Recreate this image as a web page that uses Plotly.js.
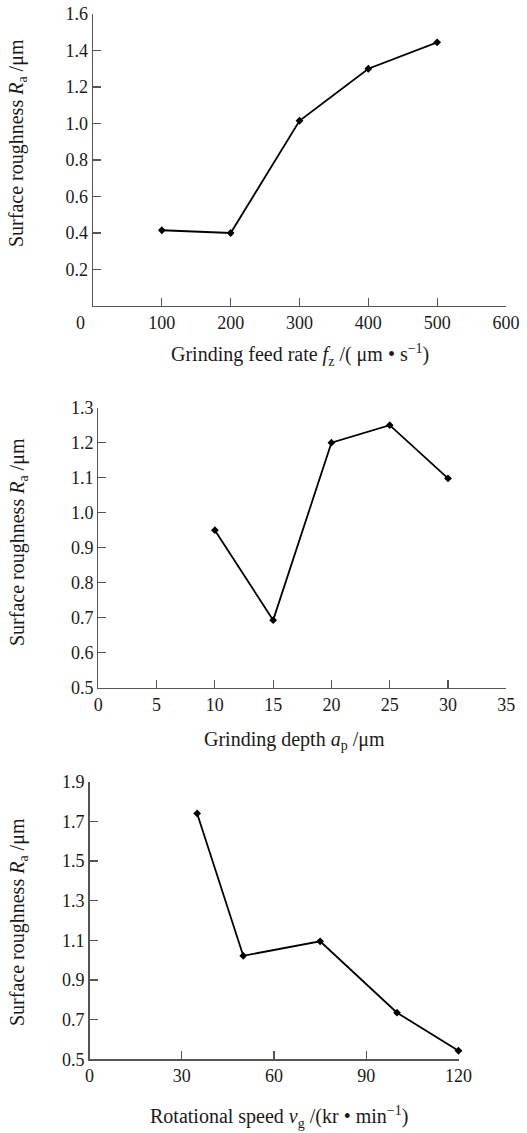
<!DOCTYPE html>
<html>
<head>
<meta charset="utf-8">
<script src="https://cdn.plot.ly/plotly-3.0.1.min.js"></script>
<style>
html,body{margin:0;padding:0;background:#fff;}
#chart{width:527px;height:1133px;}
</style>
</head>
<body>
<div id="chart"></div>
<script>
// Chart 1: grinding feed rate
const feedRate = [100, 200, 300, 400, 500];
const roughnessFeed = [0.415, 0.40, 1.015, 1.30, 1.445];
// Chart 2: grinding depth
const depth = [10, 15, 20, 25, 30];
const roughnessDepth = [0.95, 0.693, 1.20, 1.25, 1.098];
// Chart 3: rotational speed
const speed = [35, 50, 75, 100, 120];
const roughnessSpeed = [1.74, 1.022, 1.095, 0.735, 0.543];

const feedTicks = [100, 200, 300, 400, 500, 600];
const feedYTicks = [0.2, 0.4, 0.6, 0.8, 1.0, 1.2, 1.4, 1.6];
const depthTicks = [0, 5, 10, 15, 20, 25, 30, 35];
const depthYTicks = [0.5, 0.6, 0.7, 0.8, 0.9, 1.0, 1.1, 1.2, 1.3];
const speedTicks = [0, 30, 60, 90, 120];
const speedYTicks = [0.5, 0.7, 0.9, 1.1, 1.3, 1.5, 1.7, 1.9];

const yTitle = 'Surface roughness <i>R</i><sub>a</sub> /μm';
const xTitles = [
  'Grinding feed rate <i>f</i><sub>z</sub> /( μm • s<sup>−1</sup>)',
  'Grinding depth <i>a</i><sub>p</sub> /μm',
  'Rotational speed <i>v</i><sub>g</sub> /(kr • min<sup>−1</sup>)'
];

const W = 527, H = 1133;
const FONT = 'Liberation Serif, Times New Roman, serif';
const TXT = '#1a1a1a';
const AX = '#555555';
const TICKSIZE = 18;
const TITLESIZE = 20;

function px(x){ return x / W; }
function py(y){ return 1 - y / H; }

const lineStyle = {color: '#000', width: 1.8};
const markerStyle = {symbol: 'diamond', size: 6, color: '#000'};

const traces = [
  {x: feedRate, y: roughnessFeed, xaxis: 'x', yaxis: 'y', mode: 'lines+markers', line: lineStyle, marker: markerStyle, cliponaxis: false},
  {x: depth, y: roughnessDepth, xaxis: 'x2', yaxis: 'y2', mode: 'lines+markers', line: lineStyle, marker: markerStyle, cliponaxis: false},
  {x: speed, y: roughnessSpeed, xaxis: 'x3', yaxis: 'y3', mode: 'lines+markers', line: lineStyle, marker: markerStyle, cliponaxis: false}
];

function axisBase(){
  return {
    showline: true, linecolor: AX, linewidth: 1.3,
    ticks: 'inside', ticklen: 8, tickwidth: 1.2, tickcolor: AX,
    showgrid: false, zeroline: false, mirror: false,
    tickfont: {family: FONT, size: TICKSIZE, color: TXT},
    fixedrange: true
  };
}

function ann(text, x, y, angle){
  const a = {text: text, xref: 'paper', yref: 'paper', x: px(x), y: py(y), showarrow: false,
    font: {family: FONT, size: TITLESIZE, color: TXT}, xanchor: 'center', yanchor: 'middle'};
  if (angle) a.textangle = angle;
  return a;
}

const zeroLabel = {text: '0', xref: 'paper', yref: 'paper', x: px(80), y: py(323), showarrow: false,
  font: {family: FONT, size: TICKSIZE, color: TXT}, xanchor: 'center', yanchor: 'middle'};

const layout = {
  width: W, height: H,
  margin: {l: 0, r: 0, t: 0, b: 0},
  paper_bgcolor: '#fff', plot_bgcolor: '#fff',
  showlegend: false,
  font: {family: FONT, color: TXT},
  xaxis: Object.assign(axisBase(), {domain: [px(93), px(506)], range: [0, 600], tickvals: feedTicks, anchor: 'y'}),
  yaxis: Object.assign(axisBase(), {domain: [py(306), py(14)], range: [0, 1.6], tickvals: feedYTicks, ticktext: feedYTicks.map(v => v.toFixed(1)), anchor: 'x'}),
  xaxis2: Object.assign(axisBase(), {domain: [px(98.3), px(506.3)], range: [0, 35], tickvals: depthTicks, anchor: 'y2'}),
  yaxis2: Object.assign(axisBase(), {domain: [py(687.7), py(407.7)], range: [0.5, 1.3], tickvals: depthYTicks, ticktext: depthYTicks.map(v => v.toFixed(1)), anchor: 'x2'}),
  xaxis3: Object.assign(axisBase(), {domain: [px(89.5), px(458.5)], range: [0, 120], tickvals: speedTicks, anchor: 'y3'}),
  yaxis3: Object.assign(axisBase(), {domain: [py(1059.3), py(781.7)], range: [0.5, 1.9], tickvals: speedYTicks, ticktext: speedYTicks.map(v => v.toFixed(1)), anchor: 'x3'}),
  annotations: [
    zeroLabel,
    ann(yTitle, 18, 143, -90),
    ann(yTitle, 18, 542, -90),
    ann(yTitle, 18, 922, -90),
    ann(xTitles[0], 300, 355),
    ann(xTitles[1], 294, 740),
    ann(xTitles[2], 279, 1117)
  ]
};

Plotly.newPlot('chart', traces, layout, {staticPlot: true, displayModeBar: false});
</script>
</body>
</html>
